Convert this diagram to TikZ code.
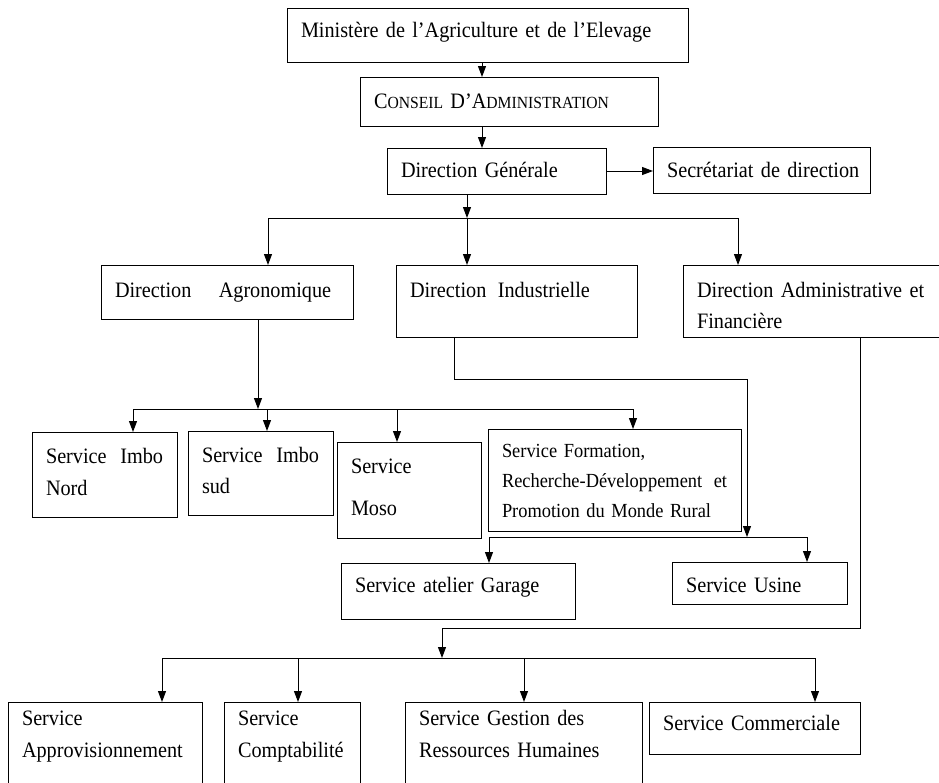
\documentclass[tikz,border=0pt]{standalone}
\usepackage{fontspec}
\setmainfont{Liberation Serif}[FakeStretch=0.92,WordSpace=0.7]
\usetikzlibrary{arrows.meta}
\tikzset{
  box/.style={draw, line width=1pt, anchor=north west, outer sep=0pt,
    inner xsep=14pt, inner ysep=0pt, align=left,
    font=\fontsize{22}{31}\selectfont},
  link/.style={line width=1pt},
  arr/.style={line width=1pt, -{Triangle[length=11pt,width=8pt]}}
}
\begin{document}
\begin{tikzpicture}[x=1pt,y=-1pt]
\useasboundingbox (0,0) rectangle (939,782);

\node[box, text width=373pt, text height=29pt, text depth=25pt] (min) at (287,8)
  {\mbox{Ministère de l’Agriculture et de l’Elevage}};
\node[box, text width=270pt, text height=31pt, text depth=18pt] (conseil) at (360,77)
  {\mbox{C{\fontsize{17}{31}\selectfont ONSEIL} D’A{\fontsize{17}{31}\selectfont DMINISTRATION}}};
\node[box, text width=191pt, text height=29pt, text depth=17pt] (dg) at (387,148)
  {\mbox{Direction Générale}};
\node[box, text width=189pt, text height=30pt, text depth=16pt] (sec) at (653,147)
  {\mbox{Secrétariat de direction}};

\node[box, text width=224pt, text height=32pt, text depth=22pt] (da) at (101,265)
  {\mbox{Direction\hspace{20pt} Agronomique}};
\node[box, text width=213pt, text height=32pt, text depth=40pt] (di) at (396,265)
  {\mbox{Direction\hspace{4pt} Industrielle}};
\node[box, text width=234pt, text height=32pt, text depth=40pt] (daf) at (683,265)
  {\mbox{Direction Administrative et}\\Financière};

\node[box, text width=117pt, text height=31pt, text depth=54pt,
  font=\fontsize{22}{32}\selectfont] (nord) at (32,432)
  {Service\hfill Imbo\\Nord};
\node[box, text width=117pt, text height=31pt, text depth=53pt] (sud) at (188,431)
  {Service\hfill Imbo\\sud};
\node[box, text width=116pt, text height=31pt, text depth=65pt,
  font=\fontsize{22}{42}\selectfont] (moso) at (337,442)
  {Service\\Moso};
\node[box, text width=225pt, text height=28pt, text depth=74pt,
  font=\fontsize{20}{30}\selectfont] (form) at (488,429)
  {Service Formation,\\Recherche-Développement\hfill et\\\mbox{Promotion du Monde Rural}};

\node[box, text width=206pt, text height=29pt, text depth=27pt] (garage) at (341,563)
  {\mbox{Service atelier Garage}};
\node[box, text width=147pt, text height=30pt, text depth=12pt] (usine) at (672,562)
  {\mbox{Service Usine}};

\node[box, text width=166pt, text height=23pt, text depth=77pt,
  font=\fontsize{22}{32}\selectfont] (appro) at (8,702)
  {Service\\Approvisionnement};
\node[box, text width=108pt, text height=23pt, text depth=77pt,
  font=\fontsize{22}{32}\selectfont] (compta) at (224,702)
  {Service\\Comptabilité};
\node[box, text width=209pt, text height=23pt, text depth=77pt,
  font=\fontsize{22}{32}\selectfont] (grh) at (405,702)
  {\mbox{Service Gestion des}\\\mbox{Ressources Humaines}};
\node[box, text width=183pt, text height=28pt, text depth=24pt] (comm) at (649,702)
  {\mbox{Service Commerciale}};

\coordinate (jTop) at (467,218);
\coordinate (jAgro) at (258,409);
\coordinate (jInd) at (747,537);
\coordinate (jAdm) at (442,658);

\draw[arr] ([xshift=-5.5pt]min.south) -- ([xshift=-5.5pt]min.south |- conseil.north);
\draw[arr] ([xshift=-27pt]conseil.south) -- ([xshift=-27pt]conseil.south |- dg.north);
\draw[arr] (dg.east) -- (dg.east -| sec.west);
\draw[arr] ([xshift=-29.5pt]dg.south) -- (jTop);

\draw[link] ([xshift=41pt]da.north |- jTop) -- ([xshift=-76pt]daf.north |- jTop);
\foreach \n/\dx in {da/41, daf/-76}
  \draw[arr] ([xshift=\dx pt]\n.north |- jTop) -- ([xshift=\dx pt]\n.north);
\draw[arr] (jTop) -- (jTop |- di.north);

\draw[arr] ([xshift=31pt]da.south) -- (jAgro);
\draw[link] ([xshift=28.5pt]nord.north |- jAgro) -- ([xshift=18.5pt]form.north |- jAgro);
\foreach \n/\dx in {nord/28.5, sud/6.5, moso/-12, form/18.5}
  \draw[arr] ([xshift=\dx pt]\n.north |- jAgro) -- ([xshift=\dx pt]\n.north);

\draw[arr] ([xshift=-62.5pt]di.south) -- ++(0,42) -| (jInd);
\draw[link] ([xshift=31pt]garage.north |- jInd) -- ([xshift=47.5pt]usine.north |- jInd);
\foreach \n/\dx in {garage/31, usine/47.5}
  \draw[arr] ([xshift=\dx pt]\n.north |- jInd) -- ([xshift=\dx pt]\n.north);

\draw[arr] ([xshift=46pt]daf.south) |- ([yshift=30pt]jAdm) -- (jAdm);
\draw[link] ([xshift=57pt]appro.north |- jAdm) -- ([xshift=60.5pt]comm.north |- jAdm);
\foreach \n/\dx in {appro/57, compta/6, grh/0.5, comm/60.5}
  \draw[arr] ([xshift=\dx pt]\n.north |- jAdm) -- ([xshift=\dx pt]\n.north);
\end{tikzpicture}
\end{document}
